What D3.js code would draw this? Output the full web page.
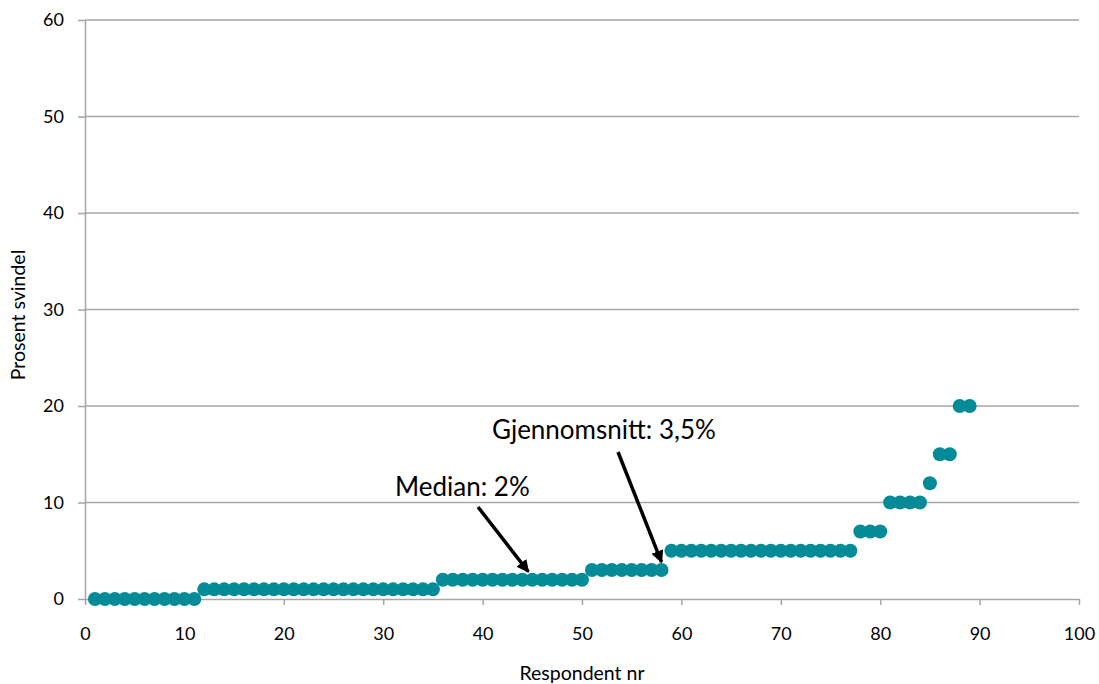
<!DOCTYPE html>
<html><head><meta charset="utf-8">
<script src="https://cdn.jsdelivr.net/npm/d3@7"></script>
<style>body{margin:0;background:#fff;} text{font-family:Lato, "Open Sans", sans-serif;}</style>
</head><body>
<svg id="chart" width="1099" height="684"></svg>
<script>
const respondents = d3.range(1, 90);
const values = [
  0,0,0,0,0,0,0,0,0,0,0,
  1,1,1,1,1,1,1,1,1,1,1,1,1,1,1,1,1,1,1,1,1,1,1,1,
  2,2,2,2,2,2,2,2,2,2,2,2,2,2,2,
  3,3,3,3,3,3,3,3,
  5,5,5,5,5,5,5,5,5,5,5,5,5,5,5,5,5,5,5,
  7,7,7,
  10,10,10,10,
  12,
  15,15,
  20,20
];
const xTicks = [0,10,20,30,40,50,60,70,80,90,100];
const yTicks = [0,10,20,30,40,50,60];
const annotations = [
  {label:"Median: 2%", tx:395, ty:496, from:[478, 507], to:[44.6, 2]},
  {label:"Gjennomsnitt: 3,5%", tx:492, ty:439, from:[618, 452], to:[58.0, 3]}
];

const svg = d3.select("#chart");
const x = d3.scaleLinear().domain([0,100]).range([85,1079]);
const y = d3.scaleLinear().domain([0,60]).range([599,20]);
const grey = "#a6a6a6";

svg.append("g").selectAll("line").data(yTicks.filter(d=>d>0)).join("line")
  .attr("x1", x(0)).attr("x2", x(100)).attr("y1", d=>y(d)).attr("y2", d=>y(d))
  .attr("stroke", grey).attr("stroke-width", 1.3);

const xAxis = svg.append("g").attr("transform", `translate(0,${y(0)})`)
  .call(d3.axisBottom(x).tickValues(xTicks).tickSize(6).tickPadding(22).tickSizeOuter(0));
const yAxis = svg.append("g").attr("transform", `translate(${x(0)},0)`)
  .call(d3.axisLeft(y).tickValues(yTicks).tickSize(7).tickPadding(14).tickSizeOuter(0));
[xAxis, yAxis].forEach(g=>{
  g.select(".domain").attr("stroke", grey).attr("stroke-width", 1.5);
  g.selectAll(".tick line").attr("stroke", grey).attr("stroke-width", 1.5);
  g.selectAll(".tick text").attr("font-size", 18).attr("fill", "#000").attr("font-family", "Lato, sans-serif");
});

svg.append("text").attr("x", 582).attr("y", 680).attr("text-anchor","middle")
  .attr("font-size", 19.5).text("Respondent nr");
svg.append("text").attr("transform", "translate(25,315) rotate(-90)").attr("text-anchor","middle")
  .attr("font-size", 19.5).text("Prosent svindel");

svg.append("g").selectAll("circle").data(respondents).join("circle")
  .attr("cx", d=>x(d)).attr("cy", (d,i)=>y(values[i])).attr("r", 7)
  .attr("fill", "#038b97");

const defs = svg.append("defs");
defs.append("marker").attr("id","arr").attr("viewBox","0 0 10 10").attr("refX",9).attr("refY",5)
  .attr("markerWidth",3.6).attr("markerHeight",3.6).attr("orient","auto")
  .append("path").attr("d","M0,0 L10,5 L0,10 z").attr("fill","#000");
annotations.forEach(a=>{
  svg.append("text").attr("x", a.tx).attr("y", a.ty).attr("font-size", 26).attr("fill","#000").text(a.label);
  svg.append("line").attr("x1", a.from[0]).attr("y1", a.from[1])
    .attr("x2", x(a.to[0])).attr("y2", y(a.to[1]) - 8)
    .attr("stroke","#000").attr("stroke-width",3.5).attr("marker-end","url(#arr)");
});
</script>
</body></html>
